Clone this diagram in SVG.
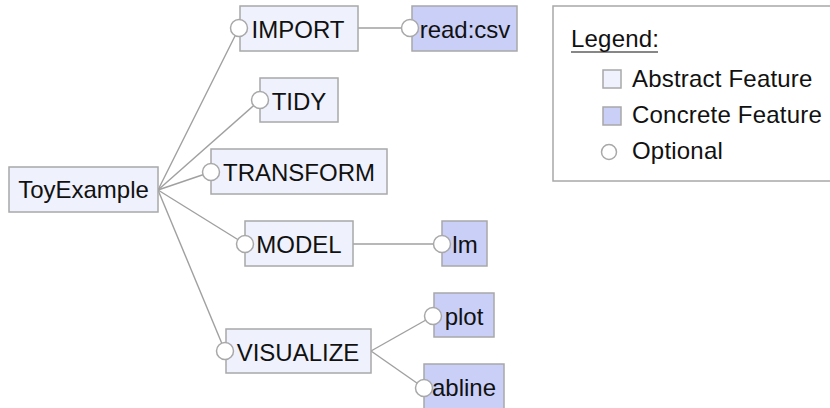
<svg xmlns="http://www.w3.org/2000/svg" width="830" height="408" viewBox="0 0 830 408">
  <style>
    .box { stroke: #a8a8a8; stroke-width: 1.5; }
    .abstract { fill: #eff1fd; }
    .concrete { fill: #cacff8; }
    .opt { fill: #ffffff; stroke: #a8a8a8; stroke-width: 1.5; }
    .label { font-family: "Liberation Sans", Arial, sans-serif; font-size: 24px; fill: #111111; text-anchor: middle; }
    .legtext { font-family: "Liberation Sans", Arial, sans-serif; font-size: 24px; letter-spacing: 0.2px; fill: #111111; }
    .edge { stroke: #a0a0a0; stroke-width: 1.4; fill: none; }
  </style>

  <!-- connectors (drawn first so the optional markers sit on top) -->
  <g id="connectors">
    <line class="edge" x1="158" y1="190" x2="239" y2="28"/>
    <line class="edge" x1="158" y1="190" x2="260" y2="100"/>
    <line class="edge" x1="158" y1="190" x2="211" y2="172"/>
    <line class="edge" x1="158" y1="190" x2="245" y2="244"/>
    <line class="edge" x1="158" y1="190" x2="225" y2="351"/>
    <line class="edge" x1="358" y1="28" x2="410" y2="28"/>
    <line class="edge" x1="353" y1="244" x2="442" y2="244"/>
    <line class="edge" x1="371" y1="351" x2="433" y2="316"/>
    <line class="edge" x1="371" y1="351" x2="424" y2="388"/>
  </g>

  <g id="ToyExample">
    <rect class="box abstract" x="9" y="167" width="149" height="45"/>
    <text class="label" x="83.5" y="198">ToyExample</text>
  </g>

  <g id="IMPORT">
    <rect class="box abstract" x="240" y="6" width="118" height="45"/>
    <text class="label" x="298" y="38">IMPORT</text>
    <circle class="opt" cx="239" cy="28" r="8.5"/>
  </g>

  <g id="TIDY">
    <rect class="box abstract" x="260" y="78" width="78" height="44"/>
    <text class="label" x="299" y="110">TIDY</text>
    <circle class="opt" cx="260" cy="100" r="8.5"/>
  </g>

  <g id="TRANSFORM">
    <rect class="box abstract" x="211" y="149" width="176" height="45"/>
    <text class="label" x="299" y="181">TRANSFORM</text>
    <circle class="opt" cx="211" cy="172" r="8.5"/>
  </g>

  <g id="MODEL">
    <rect class="box abstract" x="245" y="221" width="108" height="45"/>
    <text class="label" x="299" y="253">MODEL</text>
    <circle class="opt" cx="245" cy="244" r="8.5"/>
  </g>

  <g id="VISUALIZE">
    <rect class="box abstract" x="226" y="329" width="145" height="44"/>
    <text class="label" x="298" y="361">VISUALIZE</text>
    <circle class="opt" cx="225" cy="351" r="8.5"/>
  </g>

  <g id="read-csv">
    <rect class="box concrete" x="412" y="6" width="105" height="45"/>
    <text class="label" x="465" y="38">read:csv</text>
    <circle class="opt" cx="410" cy="28" r="8.5"/>
  </g>

  <g id="lm">
    <rect class="box concrete" x="442" y="221" width="45" height="45"/>
    <text class="label" x="465" y="253">lm</text>
    <circle class="opt" cx="442" cy="244" r="8.5"/>
  </g>

  <g id="plot">
    <rect class="box concrete" x="434" y="293" width="60" height="44"/>
    <text class="label" x="464" y="325">plot</text>
    <circle class="opt" cx="433" cy="316" r="8.5"/>
  </g>

  <g id="abline">
    <rect class="box concrete" x="424" y="364" width="80" height="45"/>
    <text class="label" x="464" y="396">abline</text>
    <circle class="opt" cx="424" cy="388" r="8.5"/>
  </g>

  <!-- legend -->
  <g id="legend">
    <rect x="553" y="6" width="290" height="175" fill="#ffffff" stroke="#a8a8a8" stroke-width="1.5"/>
    <text class="legtext" x="571" y="47">Legend:</text>
    <line x1="571" y1="52" x2="658" y2="52" stroke="#111111" stroke-width="1.2"/>
    <rect class="box abstract" x="603" y="70" width="18" height="18"/>
    <text class="legtext" x="632" y="87">Abstract Feature</text>
    <rect class="box concrete" x="603" y="107" width="18" height="18"/>
    <text class="legtext" x="632" y="123">Concrete Feature</text>
    <circle class="opt" cx="609" cy="152" r="7.5"/>
    <text class="legtext" x="632" y="159">Optional</text>
  </g>
</svg>
